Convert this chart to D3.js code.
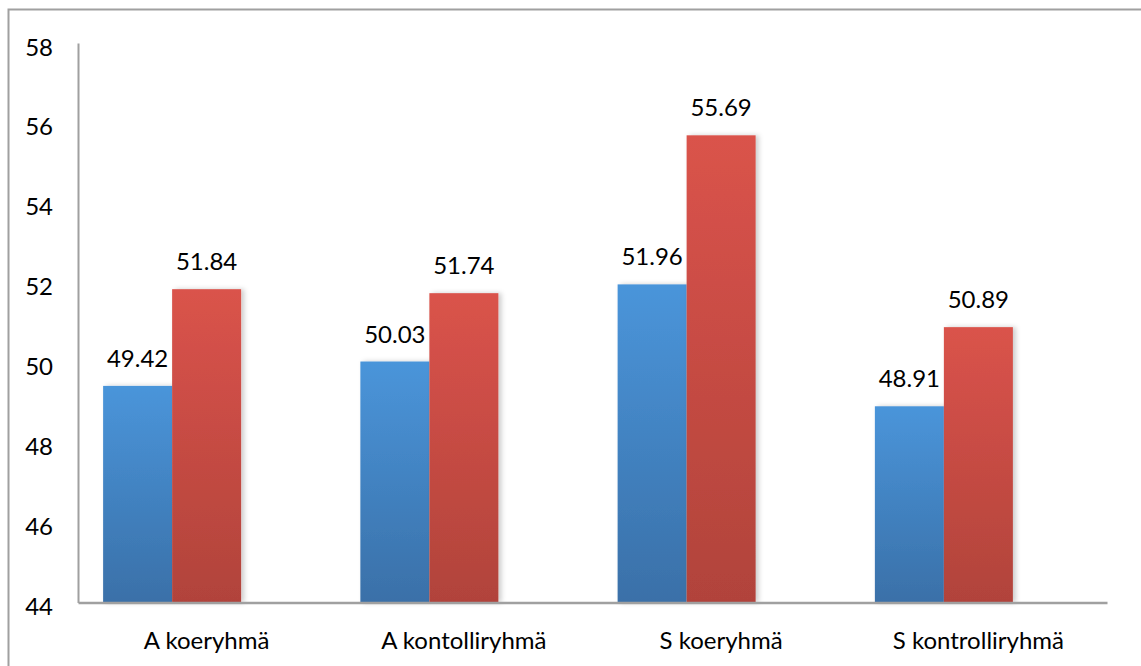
<!DOCTYPE html>
<html>
<head>
<meta charset="utf-8">
<script src="https://cdn.jsdelivr.net/npm/d3@7"></script>
<style>
  html, body { margin: 0; padding: 0; background: #fff; }
  svg { display: block; }
  text { font-family: Lato, "Open Sans", sans-serif; fill: #000; }
</style>
</head>
<body>
<svg id="chart" width="1141" height="666"></svg>
<script>
const categories = ["A koeryhmä", "A kontolliryhmä", "S koeryhmä", "S kontrolliryhmä"];
const series1 = [49.42, 50.03, 51.96, 48.91];
const series2 = [51.84, 51.74, 55.69, 50.89];
const series3 = [null, null, null, null]; // empty third series (reserves space)
const yTicks = [44, 46, 48, 50, 52, 54, 56, 58];

const svg = d3.select("#chart");
const W = 1141, H = 666;
const mLeft = 78, mRight = 1107, mTop = 43, mBottom = 602.5;
const FS = 24;

// outer border
svg.append("rect").attr("x", 8.5).attr("y", 9.5).attr("width", W).attr("height", H)
  .attr("fill", "none").attr("stroke", "#a0a0a0").attr("stroke-width", 2);

const defs = svg.append("defs");
function grad(id, c1, c2) {
  const g = defs.append("linearGradient").attr("id", id)
    .attr("x1", 0).attr("y1", 0).attr("x2", 0).attr("y2", 1);
  g.append("stop").attr("offset", "0%").attr("stop-color", c1);
  g.append("stop").attr("offset", "100%").attr("stop-color", c2);
}
grad("gBlue", "#4a95da", "#3a70a8");
grad("gRed", "#da534b", "#b1433b");
const f = defs.append("filter").attr("id", "shadow").attr("x", "-10%").attr("y", "-10%").attr("width", "130%").attr("height", "120%");
f.append("feDropShadow").attr("dx", 3).attr("dy", 0).attr("stdDeviation", 2.5)
  .attr("flood-color", "#000").attr("flood-opacity", 0.2);

const x0 = d3.scaleBand().domain(categories).range([mLeft, mRight]).paddingInner(0).paddingOuter(0);
const x1 = d3.scaleBand().domain(["s1", "s2", "s3"]).range([0, x0.bandwidth()]).paddingInner(0).paddingOuter(0.364);
const y = d3.scaleLinear().domain([44, 58]).range([mBottom, mTop]);

const seriesDefs = [
  { key: "s1", values: series1, fill: "url(#gBlue)" },
  { key: "s2", values: series2, fill: "url(#gRed)" },
  { key: "s3", values: series3, fill: "none" }
];

const gBars = svg.append("g");
seriesDefs.forEach(s => {
  categories.forEach((c, i) => {
    const v = s.values[i];
    if (v == null) return;
    gBars.append("rect")
      .attr("x", x0(c) + x1(s.key))
      .attr("y", y(v))
      .attr("width", x1.bandwidth())
      .attr("height", y(44) - y(v))
      .attr("fill", s.fill)
      .attr("filter", "url(#shadow)");
  });
});

// value labels
seriesDefs.forEach(s => {
  categories.forEach((c, i) => {
    const v = s.values[i];
    if (v == null) return;
    svg.append("text")
      .attr("x", x0(c) + x1(s.key) + x1.bandwidth() / 2)
      .attr("y", y(v) - 19)
      .attr("text-anchor", "middle")
      .attr("font-size", FS)
      .text(v.toFixed(2));
  });
});

// axes
const yAxis = d3.axisLeft(y).tickValues(yTicks).tickSize(0).tickPadding(25).tickFormat(d3.format("d"));
const gy = svg.append("g").attr("transform", `translate(${mLeft},0)`).call(yAxis);
gy.select(".domain").attr("stroke", "#a0a0a0").attr("stroke-width", 2);
gy.selectAll("text").attr("font-size", FS).attr("dy", "0.5em").style("font-family", "Lato, 'Open Sans', sans-serif");

const xAxis = d3.axisBottom(x0).tickSize(0).tickPadding(29);
const gx = svg.append("g").attr("transform", `translate(0,${mBottom})`).call(xAxis);
gx.select(".domain").attr("stroke", "#a0a0a0").attr("stroke-width", 2.5);
gx.selectAll("text").attr("font-size", FS).style("font-family", "Lato, 'Open Sans', sans-serif");
</script>
</body>
</html>
